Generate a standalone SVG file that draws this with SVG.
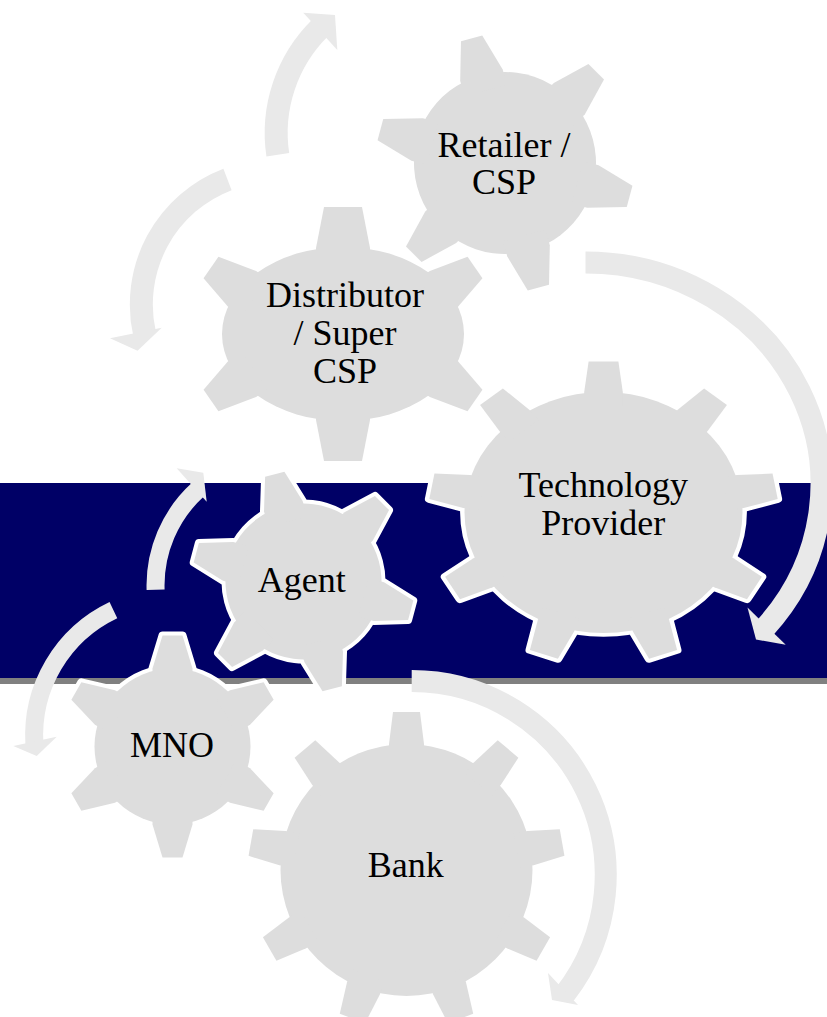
<svg xmlns="http://www.w3.org/2000/svg" width="827" height="1017" viewBox="0 0 827 1017">
<style>
.gear{fill:#dddddd}
.halo{fill:#ffffff;stroke:#ffffff;stroke-width:8;stroke-linejoin:round}
.arc{fill:none;stroke:#e9e9e9}
.head{fill:#e9e9e9}
.lbl{font-family:"Liberation Serif","Times New Roman",serif;font-size:36px;fill:#000000;text-anchor:middle}
</style>
<defs>
<polygon id="t6s" points="-10,-111 10,-111 20,-78 20,-62 -20,-62 -20,-78"/>
<polygon id="t6r" points="-11,-129 11,-129 22,-91 22,-75 -22,-75 -22,-91"/>
<polygon id="t9" points="-13.5,-158 13.5,-158 17.5,-126 17.5,-112 -17.5,-112 -17.5,-126"/>
<polygon id="tds" points="-13,0 13,0 23,39 23,53 -23,53 -23,39"/>
<g id="g6s"><circle r="78"/><use href="#t6s"/><use href="#t6s" transform="rotate(60)"/><use href="#t6s" transform="rotate(120)"/><use href="#t6s" transform="rotate(180)"/><use href="#t6s" transform="rotate(240)"/><use href="#t6s" transform="rotate(300)"/></g>
<g id="g6r"><circle r="91"/><use href="#t6r"/><use href="#t6r" transform="rotate(60)"/><use href="#t6r" transform="rotate(120)"/><use href="#t6r" transform="rotate(180)"/><use href="#t6r" transform="rotate(240)"/><use href="#t6r" transform="rotate(300)"/></g>
<g id="g9"><circle r="126"/><use href="#t9"/><use href="#t9" transform="rotate(40)"/><use href="#t9" transform="rotate(80)"/><use href="#t9" transform="rotate(120)"/><use href="#t9" transform="rotate(160)"/><use href="#t9" transform="rotate(200)"/><use href="#t9" transform="rotate(240)"/><use href="#t9" transform="rotate(280)"/><use href="#t9" transform="rotate(320)"/></g>
<g id="gdist"><ellipse rx="121" ry="87"/><polygon points="-19,-127 19,-127 27,-86 27,-72 -27,-72 -27,-86"/><polygon points="-19,127 19,127 27,86 27,72 -27,72 -27,86"/><use href="#tds" transform="translate(-132,-66.5) rotate(-55)"/><use href="#tds" transform="translate(132,-66.5) rotate(55)"/><use href="#tds" transform="translate(132,66.5) rotate(125)"/><use href="#tds" transform="translate(-132,66.5) rotate(235)"/></g>
</defs>
<g id="background">
<rect x="0" y="483" width="827" height="195" fill="#000066"/>
<rect x="0" y="678" width="827" height="6" fill="#808080"/>
</g>
<g id="connectors">
<path class="arc" stroke-width="23" d="M 277.8 154.8 A 147.8 147.8 0 0 1 320.4 27.6"/>
<polygon class="head" points="303.3,12.7 335,15 337.3,50"/>
<path class="arc" stroke-width="23" d="M 227.5 179.4 A 134 134 0 0 0 144.5 333.6"/>
<polygon class="head" points="110,338.3 137.5,350.7 161.7,327.7"/>
<path class="arc" stroke-width="22" d="M 585.5 262.5 A 236 221.5 0 0 1 765 627.8"/>
<polygon class="head" points="747.5,607.6 756,639.5 785.7,644.8"/>
<path class="arc" stroke-width="18" d="M 155.6 589.8 A 129.5 129.5 0 0 1 198.3 489.3"/>
<polygon class="head" points="176.7,468.3 203.3,472.7 206.7,501.7"/>
<path class="arc" stroke-width="18" d="M 113.4 610.2 A 138.8 138.8 0 0 0 34.4 744.1"/>
<polygon class="head" points="13.3,746 36.7,756 56.7,736.7"/>
<path class="arc" stroke-width="22" d="M 411.7 681 A 194 194 0 0 1 565 993.9"/>
<polygon class="head" points="548,973 552,1000 578,1005"/>
</g>
<g id="node-distributor">
<use href="#gdist" class="halo" transform="translate(343,334)"/>
<use href="#gdist" class="gear" transform="translate(343,334)"/>
<text class="lbl"><tspan x="345" y="306.7">Distributor</tspan><tspan x="345" y="345">/ Super</tspan><tspan x="345" y="382.7">CSP</tspan></text>
</g>
<g id="node-retailer">
<use href="#g6r" class="halo" transform="translate(505,163) rotate(-15)"/>
<use href="#g6r" class="gear" transform="translate(505,163) rotate(-15)"/>
<text class="lbl"><tspan x="504" y="156.7">Retailer /</tspan><tspan x="504" y="194">CSP</tspan></text>
</g>
<g id="node-technology">
<use href="#g9" class="halo" transform="translate(603.5,512.5) scale(1.103,0.956)"/>
<use href="#g9" class="gear" transform="translate(603.5,512.5) scale(1.103,0.956)"/>
<text class="lbl"><tspan x="603.3" y="497.3">Technology</tspan><tspan x="603.3" y="535">Provider</tspan></text>
</g>
<g id="node-bank">
<use href="#g9" class="halo" transform="translate(406.5,870)"/>
<use href="#g9" class="gear" transform="translate(406.5,870)"/>
<text class="lbl" x="405.8" y="876.7">Bank</text>
</g>
<g id="node-mno">
<use href="#g6s" class="halo" transform="translate(172.5,746.5)"/>
<use href="#g6s" class="gear" transform="translate(172.5,746.5)"/>
<text class="lbl" x="172" y="756.7">MNO</text>
</g>
<g id="node-agent">
<use href="#g6s" class="halo" transform="translate(303.5,581.5) rotate(-15)"/>
<use href="#g6s" class="gear" transform="translate(303.5,581.5) rotate(-15)"/>
<text class="lbl" x="301.7" y="591.7">Agent</text>
</g>
</svg>
